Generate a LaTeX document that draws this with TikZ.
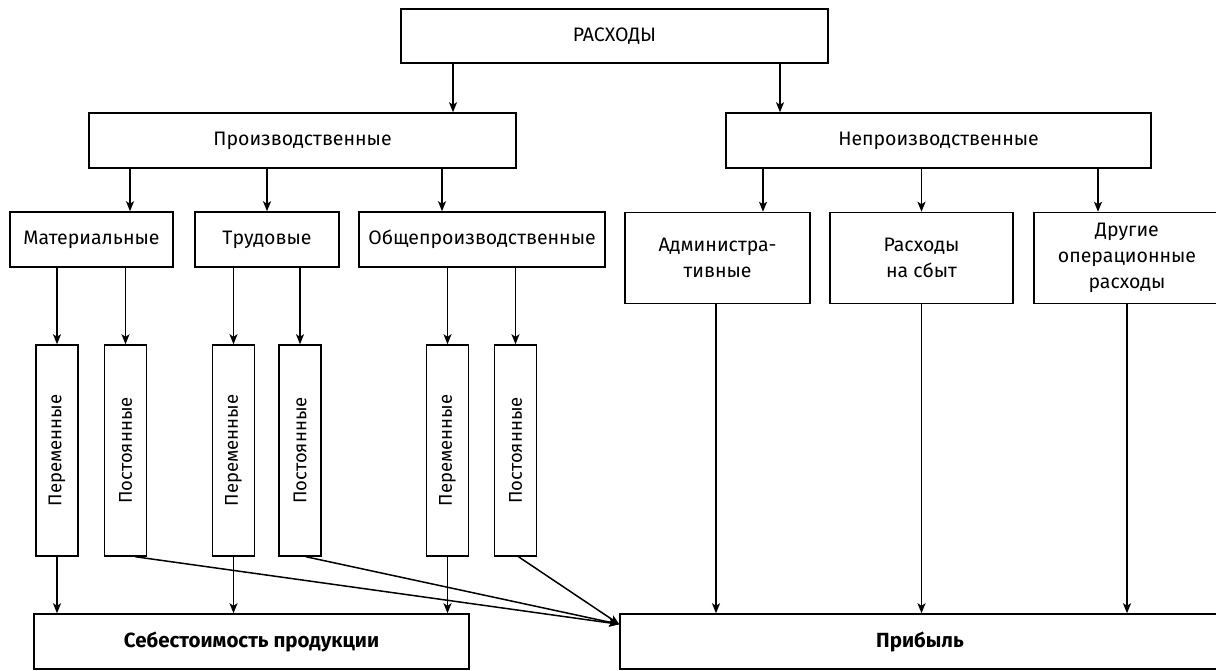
\documentclass[tikz,border=0pt]{standalone}
\usepackage{fontspec}
\setmainfont{Fira Sans}
\usepackage{graphicx}
\usetikzlibrary{arrows.meta}
\tikzset{
  bx/.style={draw, line width=1.5pt, fill=white, inner sep=0pt, align=center,
    font=\fontsize{19.5}{26}\selectfont},
  vbx/.style={bx, minimum width=42pt, minimum height=211pt, font=\fontsize{18.5}{26}\selectfont},
  bold/.style={font=\fontsize{20.5}{26}\selectfont\bfseries},
  arr/.style={line width=1.5pt, -{Stealth[length=10pt,width=8pt,inset=2.5pt]}},
}
\begin{document}
\begin{tikzpicture}[x=1pt,y=-1pt]
\useasboundingbox (0,0) rectangle (1216,670);
\clip (0,0) rectangle (1216,670);
% top
\node[bx, minimum width=427pt, minimum height=54pt] (R) at (614.5,36) {РАСХОДЫ};
\node[bx, minimum width=427pt, minimum height=55pt] (P) at (302.5,140.5) {Производственные};
\node[bx, minimum width=425pt, minimum height=55pt] (N) at (938.5,140.5) {Непроизводственные};
% second level
\node[bx, minimum width=163pt, minimum height=55pt] (M) at (91.5,239.5) {Материальные};
\node[bx, minimum width=144pt, minimum height=55pt] (T) at (267,239.5) {Трудовые};
\node[bx, minimum width=246pt, minimum height=55pt] (O) at (482,239.5) {Общепроизводственные};
\node[bx, minimum width=185pt, minimum height=91pt] (A) at (717.5,258) {Администра-\\тивные};
\node[bx, minimum width=183pt, minimum height=91pt] (S) at (921.5,258) {Расходы\\на сбыт};
\node[bx, minimum width=186pt, minimum height=91pt] (D) at (1127,258) {Другие\\операционные\\расходы};
% vertical boxes
\node[vbx] (V1) at (57,450.5) {\rotatebox{90}{Переменные}};
\node[vbx] (V2) at (125.5,450.5) {\rotatebox{90}{Постоянные}};
\node[vbx] (V3) at (233.5,450.5) {\rotatebox{90}{Переменные}};
\node[vbx] (V4) at (300,450.5) {\rotatebox{90}{Постоянные}};
\node[vbx] (V5) at (447.5,450.5) {\rotatebox{90}{Переменные}};
\node[vbx] (V6) at (515.5,450.5) {\rotatebox{90}{Постоянные}};
% bottom
\node[bx, bold, minimum width=435pt, minimum height=55pt] (C) at (251.5,641.5) {Себестоимость продукции};
\node[bx, bold, minimum width=600pt, minimum height=55pt] (Pr) at (920,641.5) {Прибыль};
% arrows top
\draw[arr] ([xshift=-161.5pt]R.south) -- ([xshift=-161.5pt]R.south |- P.north);
\draw[arr] ([xshift=165.5pt]R.south) -- ([xshift=165.5pt]R.south |- N.north);
\draw[arr] ([xshift=38.5pt]M.north |- P.south) -- ([xshift=38.5pt]M.north);
\draw[arr] (T.north |- P.south) -- (T.north);
\draw[arr] ([xshift=-40pt]O.north |- P.south) -- ([xshift=-40pt]O.north);
\draw[arr] ([xshift=45.5pt]A.north |- N.south) -- ([xshift=45.5pt]A.north);
\draw[arr] (S.north |- N.south) -- (S.north);
\draw[arr] ([xshift=-29pt]D.north |- N.south) -- ([xshift=-29pt]D.north);
% to vertical boxes
\draw[arr] (V1.north |- M.south) -- (V1.north);
\draw[arr] (V2.north |- M.south) -- (V2.north);
\draw[arr] (V3.north |- T.south) -- (V3.north);
\draw[arr] (V4.north |- T.south) -- (V4.north);
\draw[arr] (V5.north |- O.south) -- (V5.north);
\draw[arr] (V6.north |- O.south) -- (V6.north);
% to cost
\draw[arr] (V1.south) -- (V1.south |- C.north);
\draw[arr] (V3.south) -- (V3.south |- C.north);
\draw[arr] (V5.south) -- (V5.south |- C.north);
% to profit
\coordinate (tip) at ([yshift=-11pt]Pr.north west);
\draw[arr] ([xshift=10pt]V2.south) -- (tip);
\draw[arr] ([xshift=6pt]V4.south) -- (tip);
\draw[arr] ([xshift=3pt]V6.south) -- (tip);
\draw[arr] ([xshift=-1.5pt]A.south) -- ([xshift=-1.5pt]A.south |- Pr.north);
\draw[arr] (S.south) -- (S.south |- Pr.north);
\draw[arr] (D.south) -- (D.south |- Pr.north);
\end{tikzpicture}
\end{document}
